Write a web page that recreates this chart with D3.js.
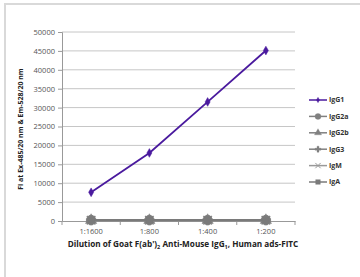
<!DOCTYPE html>
<html>
<head>
<meta charset="utf-8">
<script src="https://cdn.jsdelivr.net/npm/d3@7"></script>
<style>
  body { margin: 0; background: #fff; }
  text { font-family: "Open Sans", "DejaVu Sans", sans-serif; }
</style>
</head>
<body>
<div id="chart"></div>
<script>
// data
var dilutions = ["1:1600", "1:800", "1:400", "1:200"];
var seriesNames = ["IgG1", "IgG2a", "IgG2b", "IgG3", "IgM", "IgA"];
var igG1 = [7600, 18000, 31500, 45100];
var igG2a = [250, 250, 250, 250];
var igG2b = [200, 200, 200, 200];
var igG3 = [200, 200, 200, 200];
var igM = [200, 200, 200, 200];
var igA = [250, 250, 250, 250];
var yTicks = [0, 5000, 10000, 15000, 20000, 25000, 30000, 35000, 40000, 45000, 50000];

var series = [
  { name: "IgG1", values: igG1, color: "#4a1a9e", symbol: d3.symbolDiamond, size: 22 },
  { name: "IgG2a", values: igG2a, color: "#808080", symbol: d3.symbolCircle, size: 70 },
  { name: "IgG2b", values: igG2b, color: "#808080", symbol: d3.symbolTriangle, size: 55 },
  { name: "IgG3", values: igG3, color: "#808080", symbol: d3.symbolCross, size: 50 },
  { name: "IgM", values: igM, color: "#999999", symbol: d3.symbolX, size: 50 },
  { name: "IgA", values: igA, color: "#7a7a7a", symbol: d3.symbolSquare, size: 55 }
];

var svgWidth = 360;
var svgHeight = 277;
var margin = { top: 32, right: 65, bottom: 56, left: 62 };
var width = svgWidth - margin.left - margin.right;
var height = svgHeight - margin.top - margin.bottom;

var svg = d3.select("#chart")
  .append("svg")
  .attr("width", svgWidth)
  .attr("height", svgHeight);

// frame
svg.append("path")
  .attr("d", "M5,277 L5,4 L360,4")
  .attr("fill", "none")
  .attr("stroke", "#d9d9d9")
  .attr("stroke-width", 2);

var chartGroup = svg.append("g")
  .attr("transform", `translate(${margin.left}, ${margin.top})`);

var xScale = d3.scaleBand()
  .domain(dilutions)
  .range([0, width]);

var yScale = d3.scaleLinear()
  .domain([0, 50000])
  .range([height, 0]);

// gridlines
chartGroup.selectAll(".grid")
  .data(yTicks.slice(1))
  .enter()
  .append("line")
  .attr("x1", 0)
  .attr("x2", width)
  .attr("y1", d => yScale(d))
  .attr("y2", d => yScale(d))
  .attr("stroke", "#c6c6c6")
  .attr("stroke-width", 1);

// y axis
var leftAxis = d3.axisLeft(yScale)
  .tickValues(yTicks)
  .tickSize(4)
  .tickPadding(3)
  .tickFormat(d3.format("d"));

var yAxisGroup = chartGroup.append("g").call(leftAxis);
yAxisGroup.select(".domain").attr("stroke", "#999");
yAxisGroup.selectAll(".tick line").attr("stroke", "#999");
yAxisGroup.selectAll("text")
  .style("font-size", "7.5px")
  .attr("fill", "#555");

// x axis
var bottomAxis = d3.axisBottom(xScale).tickSize(0).tickPadding(8);
var xAxisGroup = chartGroup.append("g")
  .attr("transform", `translate(0, ${height})`)
  .call(bottomAxis);
xAxisGroup.select(".domain").attr("stroke", "#999");
xAxisGroup.selectAll("text")
  .style("font-size", "7.5px")
  .attr("fill", "#555");
xAxisGroup.selectAll(".sep")
  .data(d3.range(dilutions.length + 1))
  .enter()
  .append("line")
  .attr("x1", i => i * xScale.step())
  .attr("x2", i => i * xScale.step())
  .attr("y1", 0)
  .attr("y2", 4)
  .attr("stroke", "#999");

var line = d3.line()
  .x((d, i) => xScale(dilutions[i]) + xScale.bandwidth() / 2)
  .y(d => yScale(d));

// draw grey series first, IgG1 last
var drawOrder = series.slice(1).concat([series[0]]);
drawOrder.forEach(function(s) {
  chartGroup.append("path")
    .datum(s.values)
    .attr("d", line)
    .attr("fill", "none")
    .attr("stroke", s.color)
    .attr("stroke-width", s.name == "IgG1" ? 1.8 : 2);

  chartGroup.selectAll(".pt-" + s.name)
    .data(s.values)
    .enter()
    .append("path")
    .attr("transform", (d, i) => `translate(${xScale(dilutions[i]) + xScale.bandwidth() / 2}, ${yScale(d)})`)
    .attr("d", d3.symbol().type(s.symbol).size(s.size))
    .attr("fill", s.color)
    .attr("stroke", s.color)
    .attr("stroke-width", s.symbol == d3.symbolX ? 1.5 : 0.5);
});

// legend
var legend = svg.append("g").attr("transform", "translate(309, 100)");
series.forEach(function(s, i) {
  var g = legend.append("g").attr("transform", `translate(0, ${i * 16.4})`);
  g.append("line")
    .attr("x1", 0).attr("x2", 18)
    .attr("stroke", s.color)
    .attr("stroke-width", 1.5);
  g.append("path")
    .attr("transform", "translate(9,0)")
    .attr("d", d3.symbol().type(s.symbol).size(s.size * 0.4))
    .attr("fill", s.color)
    .attr("stroke", s.color)
    .attr("stroke-width", s.symbol == d3.symbolX ? 1 : 0.3);
  g.append("text")
    .attr("x", 20)
    .attr("dy", "0.35em")
    .style("font-size", "7px")
    .style("font-weight", "bold")
    .attr("fill", "#333")
    .text(s.name);
});

// y axis title
svg.append("text")
  .attr("transform", "translate(23, 129) rotate(-90)")
  .attr("text-anchor", "middle")
  .style("font-size", "7px")
  .style("font-weight", "bold")
  .attr("fill", "#222")
  .text("Fl at Ex-485/20 nm & Em-528/20 nm");

// x axis title
var xt = svg.append("text")
  .attr("x", 183)
  .attr("y", 247)
  .attr("text-anchor", "middle")
  .style("font-size", "8.2px")
  .style("font-weight", "bold")
  .attr("fill", "#222");
xt.append("tspan").text("Dilution of Goat F(ab')");
xt.append("tspan").attr("font-size", "5.5px").attr("dy", "1.5").text("2");
xt.append("tspan").attr("dy", "-1.5").text(" Anti-Mouse IgG");
xt.append("tspan").attr("font-size", "5.5px").attr("dy", "1.5").text("1");
xt.append("tspan").attr("dy", "-1.5").text(", Human ads-FITC");
</script>
</body>
</html>
